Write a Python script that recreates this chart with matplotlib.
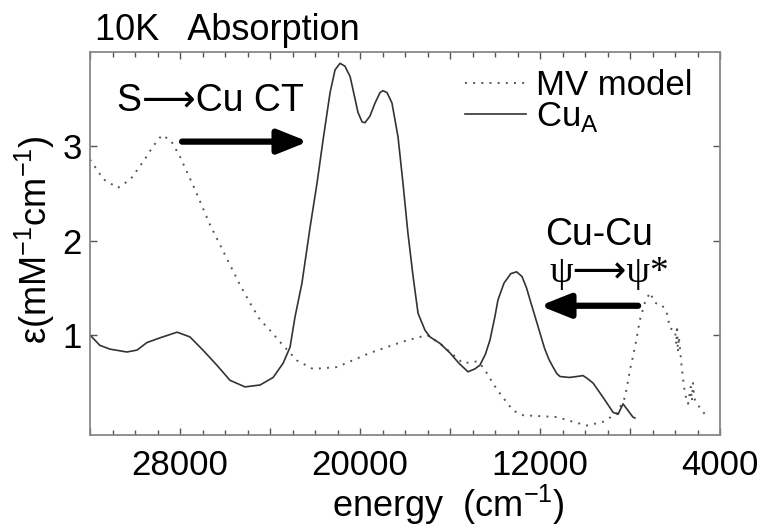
import numpy as np
import matplotlib
matplotlib.use("Agg")
import matplotlib.pyplot as plt
from matplotlib.ticker import MultipleLocator, FuncFormatter

plt.rcParams['font.family'] = ['Liberation Sans', 'DejaVu Sans']
plt.rcParams['mathtext.fontset'] = 'custom'
plt.rcParams['mathtext.rm'] = 'Liberation Sans'

# CuA spectrum (solid)
cua_energy = [32000, 31560, 31110, 30360, 29910, 29470, 28890, 28130, 27560, 26980,
              26360, 25780, 25110, 24440, 23860, 23420, 23110, 22890, 22580, 22220,
              21910, 21640, 21330, 21110, 20890, 20670, 20440, 20310, 20090, 19910,
              19780, 19560, 19330, 19110, 18980, 18800, 18580, 18310, 18090, 17870,
              17640, 17420, 17110, 16890, 16440, 16000, 15600, 15200, 14900, 14670,
              14420, 14220, 14000, 13870, 13600, 13300, 13040, 12800, 12600, 12440,
              12200, 12000, 11800, 11600, 11420, 11250, 11110, 10700, 10360, 10090,
              9900, 9640, 9200, 8750, 8530, 8310, 8090, 7870, 7780]
cua_eps = [1.00, 0.89, 0.85, 0.82, 0.84, 0.92, 0.97, 1.03, 0.98, 0.84,
           0.68, 0.52, 0.45, 0.47, 0.55, 0.70, 0.87, 1.19, 1.55, 2.14,
           2.61, 3.07, 3.57, 3.81, 3.88, 3.85, 3.74, 3.60, 3.36, 3.26,
           3.25, 3.32, 3.46, 3.57, 3.59, 3.57, 3.46, 3.10, 2.61, 2.08,
           1.62, 1.23, 1.05, 0.98, 0.91, 0.81, 0.70, 0.61, 0.64, 0.68,
           0.80, 0.95, 1.20, 1.37, 1.55, 1.65, 1.67, 1.62, 1.50, 1.37,
           1.18, 1.02, 0.86, 0.74, 0.66, 0.59, 0.56, 0.55, 0.56, 0.57,
           0.54, 0.49, 0.34, 0.18, 0.16, 0.27, 0.20, 0.13, 0.12]

# MV model spectrum (dotted)
mv_energy = [32000, 31400, 30760, 30200, 29600, 29200, 28800, 28400, 28000, 27330,
             26670, 26000, 25330, 24890, 24440, 24000, 23420, 22800, 22090, 21020,
             19560, 18090, 17020, 16440, 15420, 14800, 14530, 13910, 13200, 12760,
             11240, 10530, 9910, 9200, 8580, 8220, 8000, 7780, 7560, 7330,
             7110, 6890, 6580, 6360, 6220, 6000, 5940, 5910, 5870, 5830,
             5690, 5560, 5420, 5300, 5250, 5200, 5150, 5020, 4800, 4580]
mv_eps = [2.86, 2.65, 2.56, 2.65, 2.85, 3.00, 3.12, 3.06, 2.89, 2.54,
          2.17, 1.85, 1.53, 1.34, 1.16, 1.05, 0.89, 0.73, 0.64, 0.66,
          0.81, 0.93, 1.00, 0.91, 0.70, 0.72, 0.66, 0.42, 0.20, 0.15,
          0.13, 0.08, 0.04, 0.08, 0.17, 0.34, 0.63, 0.87, 1.16, 1.35,
          1.45, 1.34, 1.32, 1.23, 1.07, 1.05, 0.90, 1.10, 0.82, 0.98,
          0.63, 0.38, 0.27, 0.45, 0.30, 0.49, 0.33, 0.27, 0.20, 0.13]

xtick_labels = [28000, 20000, 12000, 4000]
ytick_values = [1, 2, 3]

fsize = 25
asize = 27

fig = plt.figure(figsize=(7.6, 5.31), dpi=100)
ax = fig.add_axes([90/760, 96/531, 630/760, 383/531])

ax.plot(mv_energy, mv_eps, color='#555555', lw=1.4, linestyle=(0, (1, 3.2)),
        label='MV model')
ax.plot(cua_energy, cua_eps, color='#333333', lw=1.2, label=r'Cu$_\mathregular{A}$')

ax.set_xlim(32000, 4000)
ax.set_ylim(-0.06, 4.0)

ax.xaxis.set_major_locator(MultipleLocator(4000))
ax.xaxis.set_minor_locator(MultipleLocator(1000))
ax.xaxis.set_major_formatter(FuncFormatter(
    lambda v, p: '%d' % v if int(round(v)) in xtick_labels else ''))
ax.set_yticks(ytick_values)
ax.tick_params(axis='both', which='both', direction='in', top=True, right=True,
               color='#555555', labelsize=fsize)
ax.tick_params(axis='x', which='major', length=5, width=1.0, pad=10)
ax.tick_params(axis='x', which='minor', length=3.5, width=1.0)
ax.tick_params(axis='y', which='major', length=5, width=1.0, pad=6)
for s in ax.spines.values():
    s.set_color('#888888')
    s.set_linewidth(1.3)

ax.legend(loc='upper left', bbox_to_anchor=(0.595, 0.955), frameon=False,
          fontsize=fsize, handlelength=1.75, handletextpad=0.3,
          labelspacing=-0.05, borderpad=0, borderaxespad=0)

# annotations
ax.text(30800, 3.37, 'S\u27f6Cu CT', fontsize=asize, ha='left', va='baseline',
        family=['Liberation Sans', 'DejaVu Sans'])
ax.annotate('', xy=(22310, 3.05), xytext=(27910, 3.05),
            arrowprops=dict(arrowstyle='-|>,head_length=0.9,head_width=0.36',
                            lw=4.5, color='black', mutation_scale=20,
                            shrinkA=0, shrinkB=0))
ax.text(11780, 1.95, 'Cu-Cu', fontsize=asize, ha='left', va='baseline')
ax.text(11600, 1.66, '\u03c8\u27f6\u03c8*', fontsize=asize, ha='left', va='center',
        family=['Liberation Serif', 'DejaVu Sans'])
ax.annotate('', xy=(12000, 1.31), xytext=(7640, 1.31),
            arrowprops=dict(arrowstyle='-|>,head_length=0.9,head_width=0.36',
                            lw=4.5, color='black', mutation_scale=20,
                            shrinkA=0, shrinkB=0))

fig.text(95/760, 1 - 40/531, '10K   Absorption', fontsize=26, ha='left',
         va='baseline')
fig.text(448/760, 1 - 505/531, r'energy  (cm$^\mathregular{-1}$)', fontsize=26,
         ha='center', va='center')
fig.text(35/760, 1 - 240/531, '\u03b5(mM$^\\mathregular{-1}$cm$^\\mathregular{-1}$)',
         fontsize=26, rotation=90, ha='center', va='center')

fig.savefig('out.png', dpi=100)
